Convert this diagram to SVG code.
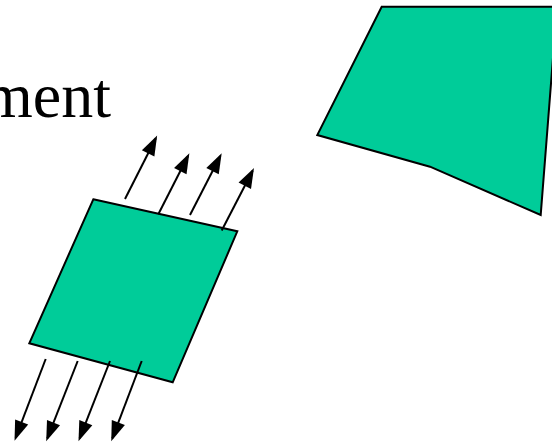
<svg xmlns="http://www.w3.org/2000/svg" width="552" height="442" viewBox="0 0 552 442">
<defs>
<style>
.shape{fill:#00CC99;stroke:#000;stroke-width:2;stroke-linejoin:miter}
.arr{stroke:#000;stroke-width:2;fill:none;marker-end:url(#ah)}
.lbl{font-family:"Liberation Serif","Times New Roman",serif;font-size:64px;fill:#000}
</style>
<marker id="ah" markerUnits="userSpaceOnUse" markerWidth="20" markerHeight="14" refX="17" refY="7" orient="auto" overflow="visible">
<path d="M0,0 L20,7 L0,14 z" fill="#000"/>
</marker>
</defs>
<rect width="552" height="442" fill="#fff"/>
<g id="label"><text class="lbl" x="-17" y="117">ment</text></g>
<g id="large-element"><polygon class="shape" points="381.7,6.7 557,6.7 540.7,215 430,166.7 317.3,135"/></g>
<g id="small-element"><polygon class="shape" points="93.3,199.3 237.3,231.3 172.7,382.3 29.3,343.3"/></g>
<g id="connectors">
<line class="arr" x1="125" y1="199" x2="155.8" y2="138.2"/>
<line class="arr" x1="158.3" y1="214.3" x2="188" y2="156"/>
<line class="arr" x1="190" y1="215" x2="220.3" y2="156"/>
<line class="arr" x1="221.7" y1="230.5" x2="252.6" y2="170.7"/>
<line class="arr" x1="45.7" y1="359" x2="15.6" y2="437.9"/>
<line class="arr" x1="77.7" y1="361" x2="47.3" y2="438.4"/>
<line class="arr" x1="110" y1="361" x2="79.6" y2="438.4"/>
<line class="arr" x1="141.7" y1="361" x2="112.3" y2="438.4"/>
</g>
</svg>
